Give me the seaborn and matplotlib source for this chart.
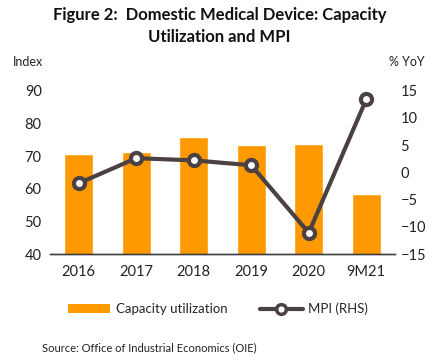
import matplotlib
matplotlib.use("Agg")
import matplotlib.pyplot as plt
import seaborn as sns
import pandas as pd
from matplotlib.patches import Patch
from matplotlib.lines import Line2D

categories = ["2016", "2017", "2018", "2019", "2020", "9M21"]
capacity_utilization = [70.5, 71.1, 75.8, 73.3, 73.6, 58.5]
mpi_yoy = [-2.0, 2.6, 2.2, 1.3, -11.1, 13.4]
left_ticks = [40, 50, 60, 70, 80, 90]
right_ticks = [-15, -10, -5, 0, 5, 10, 15]

df = pd.DataFrame({"cat": categories, "cap": capacity_utilization, "mpi": mpi_yoy})

sns.set_theme(style="white")
plt.rcParams["font.family"] = ["Lato", "DejaVu Sans"]

ORANGE = "#FF9900"
DARK = "#4B4042"

fig = plt.figure(figsize=(4.35, 3.63), dpi=100)
ax = fig.add_axes([50 / 435, 1 - 254 / 363, 345 / 435, (254 - 90.7) / 363])

sns.barplot(data=df, x="cat", y="cap", ax=ax, color=ORANGE, width=0.5,
            saturation=1, order=categories)
ax.set_ylim(40, 90)
ax.set_xlim(-0.5, 5.5)
ax.set_yticks(left_ticks)
ax.set_xlabel("")
ax.set_ylabel("")

ax2 = ax.twinx()
sns.pointplot(data=df, x="cat", y="mpi", ax=ax2, color=DARK, order=categories,
              markers="o", linestyles="-", linewidth=3,
              markersize=8, markerfacecolor="white", markeredgecolor=DARK,
              markeredgewidth=3)
ax2.set_ylim(-15, 15)
ax2.set_xlim(-0.5, 5.5)
ax2.set_yticks(right_ticks)
ax2.set_ylabel("")
ax2.set_xlabel("")

for a in (ax, ax2):
    for s in ("top", "left", "right"):
        a.spines[s].set_visible(False)
    a.spines["bottom"].set_color("#404040")
    a.spines["bottom"].set_linewidth(1.0)
    a.tick_params(axis="both", length=0, labelsize=10.5, colors="#222222", pad=6)
    a.grid(False)
ax.tick_params(axis="x", pad=8)
ax2.tick_params(axis="y", pad=4)

fig.text(0.505, 1 - 15 / 363, "Figure 2:  Domestic Medical Device: Capacity",
         ha="center", va="center", fontsize=12, fontweight="bold", color="#111111")
fig.text(0.505, 1 - 37 / 363, "Utilization and MPI",
         ha="center", va="center", fontsize=12, fontweight="bold", color="#111111")
fig.text(13 / 435, 1 - 62 / 363, "Index", ha="left", va="center", fontsize=9, color="#222222")
fig.text(425 / 435, 1 - 62 / 363, "% YoY", ha="right", va="center", fontsize=9, color="#222222")

handles = [Patch(facecolor=ORANGE, edgecolor="none"),
           Line2D([0], [0], color=DARK, lw=3, marker="o", markersize=7,
                  markerfacecolor="white", markeredgecolor=DARK, markeredgewidth=2.5)]
fig.legend(handles, ["Capacity utilization", "MPI (RHS)"], loc="center",
           bbox_to_anchor=(218 / 435, 1 - 309 / 363), ncol=2, frameon=False,
           fontsize=9.5, handlelength=3.2, handleheight=0.6, columnspacing=2.5,
           handletextpad=0.4)

fig.text(42 / 435, 1 - 348 / 363, "Source: Office of Industrial Economics (OIE)",
         ha="left", va="center", fontsize=8, color="#222222")

fig.savefig("out.png", dpi=100)
